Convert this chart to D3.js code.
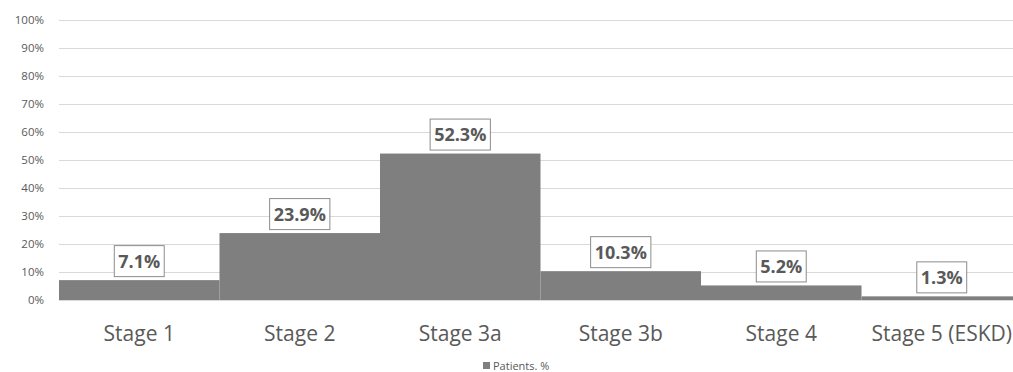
<!DOCTYPE html>
<html><head><meta charset="utf-8">
<script src="https://cdn.jsdelivr.net/npm/d3@7"></script>
<style>body{margin:0;background:#fff;overflow:hidden}svg{display:block}text{font-family:"Open Sans",sans-serif}</style>
</head><body>
<svg id="c" width="1013" height="372"></svg>
<script>
const categories = ["Stage 1","Stage 2","Stage 3a","Stage 3b","Stage 4","Stage 5 (ESKD)"];
const values = [7.1, 23.9, 52.3, 10.3, 5.2, 1.3];
const yTicks = [0,10,20,30,40,50,60,70,80,90,100];
const seriesName = "Patients. %";

const FONT = "'Open Sans',sans-serif";
const svg = d3.select("#c");
const x = d3.scaleBand().domain(categories).range([59, 1022]).padding(0);
const y = d3.scaleLinear().domain([0,100]).range([300, 20]);

// gridlines
svg.append("g").selectAll("line").data(yTicks).join("line")
  .attr("x1", 59).attr("x2", 1013)
  .attr("y1", d=>y(d)+0.5).attr("y2", d=>y(d)+0.5)
  .attr("stroke", "#d9d9d9").attr("stroke-width", 1);

// y axis labels
const yAxis = d3.axisLeft(y).tickValues(yTicks).tickFormat(d=>d+"%").tickSize(0).tickPadding(0);
const ya = svg.append("g").attr("transform","translate(44,0)").call(yAxis);
ya.select(".domain").remove();
ya.selectAll("text").attr("fill","#595959").style("font-size","11.5px").style("font-family",FONT);

// bars
svg.append("g").selectAll("rect").data(values).join("rect")
  .attr("x", (d,i)=>x(categories[i]))
  .attr("width", x.bandwidth())
  .attr("y", d=>y(d))
  .attr("height", d=>y(0)-y(d))
  .attr("fill", "#7f7f7f");

// x axis labels
const xAxis = d3.axisBottom(x).tickSize(0).tickPadding(0);
const xa = svg.append("g").attr("transform","translate(0,334)").call(xAxis);
xa.select(".domain").remove();
xa.selectAll("text").attr("fill","#595959").attr("dy","0.35em").style("font-size","21px").style("font-family",FONT);

// data labels
const lg = svg.append("g").selectAll("g").data(values).join("g")
  .attr("transform",(d,i)=>`translate(${x(categories[i])+x.bandwidth()/2},${y(d)-19})`);
lg.append("text").attr("text-anchor","middle").attr("dy","0.36em")
  .attr("fill","#595959").style("font-size","18px").style("font-weight","bold").style("font-family",FONT)
  .text(d=>d.toFixed(1)+"%");
lg.each(function(){
  const g = d3.select(this);
  const bb = g.select("text").node().getBBox();
  g.insert("rect","text")
    .attr("x", bb.x-4).attr("y", -15.5).attr("width", bb.width+8).attr("height", 31)
    .attr("fill","#fff").attr("stroke","#8c8c8c").attr("stroke-width",1);
});

// legend
const leg = svg.append("g").attr("transform","translate(483,362)");
leg.append("rect").attr("width",7).attr("height",7).attr("fill","#7f7f7f");
leg.append("text").attr("x",10).attr("y",4).attr("dy","0.35em").attr("fill","#595959")
  .style("font-size","11px").style("font-family",FONT).text(seriesName);
</script>
</body></html>
